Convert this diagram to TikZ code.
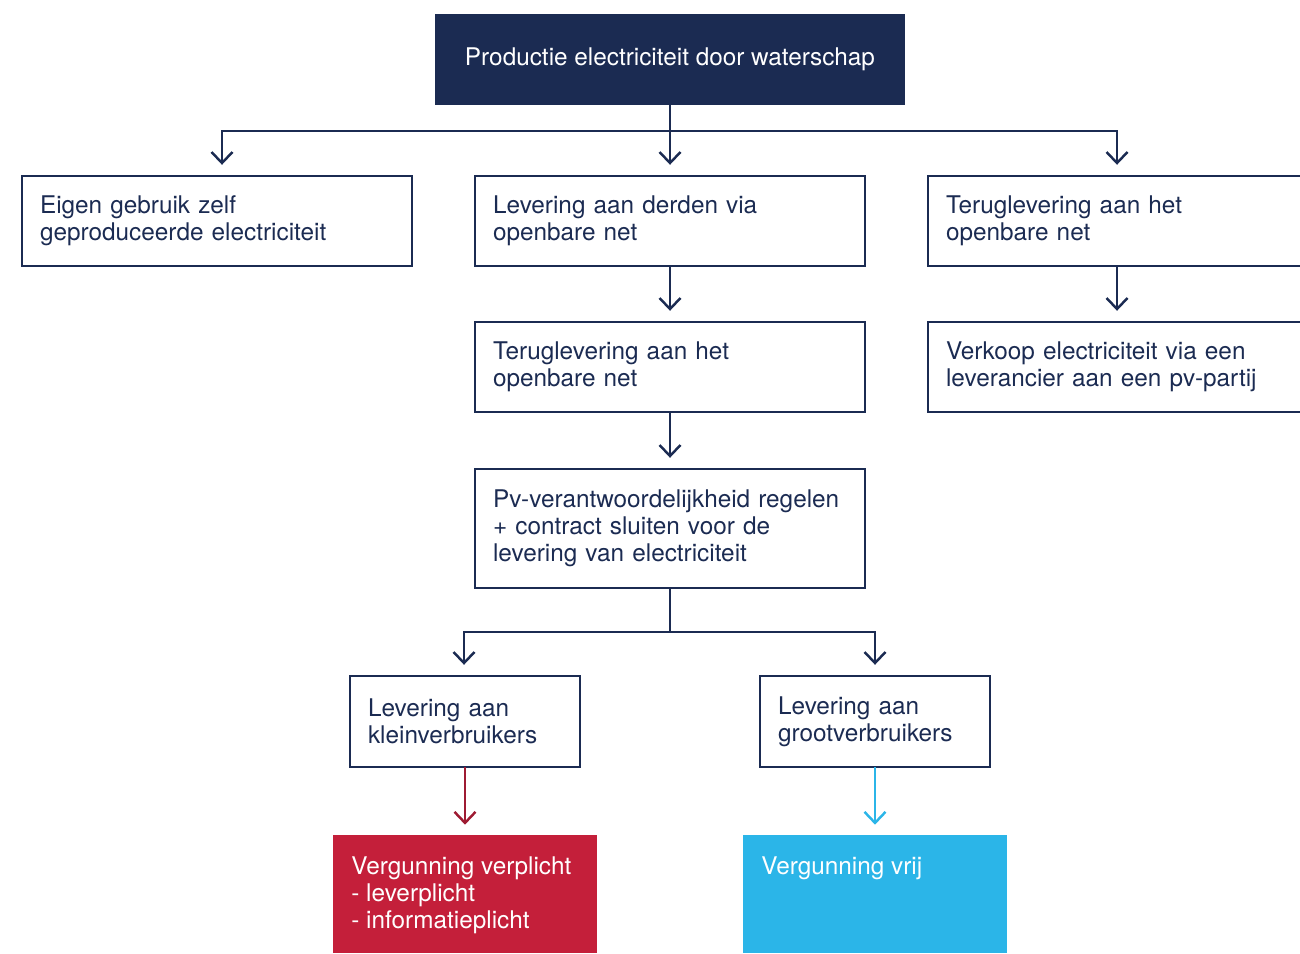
\documentclass[tikz,border=0pt]{standalone}
\usepackage{fontspec}
\setmainfont{TeX Gyre Heros}
\usetikzlibrary{arrows.meta}
\definecolor{navy}{HTML}{1B2B52}
\definecolor{wsred}{HTML}{C41F3A}
\definecolor{wscyan}{HTML}{2BB5E8}
\definecolor{wsdarkred}{HTML}{9E1B32}

\begin{document}
\begin{tikzpicture}[x=0.02cm,y=-0.02cm,
  every node/.style={font=\fontsize{13.85pt}{15.4pt}\selectfont},
  box/.style={draw=navy, line width=1.4pt, text=navy, align=left,
    inner xsep=0.36cm, inner ysep=0pt, minimum height=1.8cm},
  wide/.style={text width=7.08cm},
  narrow/.style={text width=3.88cm},
  link/.style={draw=navy, line width=1.4pt, line cap=rect},
  arr/.style={link, -{Straight Barb[length=0.22cm,width=0.42cm]}, shorten >=0.2cm},
  fillbox/.style={minimum width=5.28cm, minimum height=2.36cm, inner sep=0pt},
  filltext/.style={anchor=north west, inner sep=0pt, text=white, align=left},
]
\useasboundingbox (0,0) rectangle (1300,953);

% top block
\node[fill=navy, text=white, minimum width=9.4cm, minimum height=1.82cm, inner sep=0pt]
  (top) at (670,59.5) {Productie electriciteit door waterschap};

% first row
\node[box, wide] (A) at (217,221) {Eigen gebruik zelf\\geproduceerde electriciteit};
\node[box, wide] (B) at (670,221) {Levering aan derden via\\openbare net};
\node[box, wide] (C) at (1123,221) {Teruglevering aan het\\openbare net};

% second row
\node[box, wide] (D) at (670,367) {Teruglevering aan het\\openbare net};
\node[box, wide] (E) at (1123,367) {Verkoop electriciteit via een\\leverancier aan een pv-partij};

% third row
\node[box, wide, minimum height=2.38cm] (F) at (670,528.5)
  {Pv-verantwoordelijkheid regelen\\+ contract sluiten voor de\\levering van electriciteit};

% consumers
\node[box, narrow, minimum height=1.82cm] (G) at (465,721.5) {Levering aan\\kleinverbruikers};
\node[box, narrow, minimum height=1.82cm] (H) at (875,721.5) {Levering aan\\grootverbruikers};

% licence blocks
\node[fillbox, fill=wsred] (I) at (465,894) {};
\node[filltext] (Itxt) at (351,856) {Vergunning verplicht\\- leverplicht\\- informatieplicht};
\node[fillbox, fill=wscyan] (J) at (875,894) {};
\node[filltext] (Jtxt) at (761,856) {Vergunning vrij};

% connectors from the top block
\coordinate (j0) at (670,131);
\coordinate (jl) at (222,131);
\coordinate (jr) at (1117,131);
\draw[link] (top.south) -- (j0);
\draw[link] (jl) -- (jr);
\draw[arr] (jl) -- (jl |- A.north);
\draw[arr] (j0) -- (B.north);
\draw[arr] (jr) -- (jr |- C.north);

% vertical chains
\draw[arr] (B.south) -- (D.north);
\draw[arr] (jr |- C.south) -- (jr |- E.north);
\draw[arr] (D.south) -- (F.north);

% split towards consumers
\coordinate (k0) at (670,632);
\coordinate (kl) at (464,632);
\coordinate (kr) at (875,632);
\draw[link] (F.south) -- (k0);
\draw[link] (kl) -- (kr);
\draw[arr] (kl) -- (kl |- G.north);
\draw[arr] (kr) -- (H.north);

% licence arrows
\draw[arr, draw=wsdarkred] (G.south) -- (I.north);
\draw[arr, draw=wscyan] (H.south) -- (J.north);
\end{tikzpicture}
\end{document}
